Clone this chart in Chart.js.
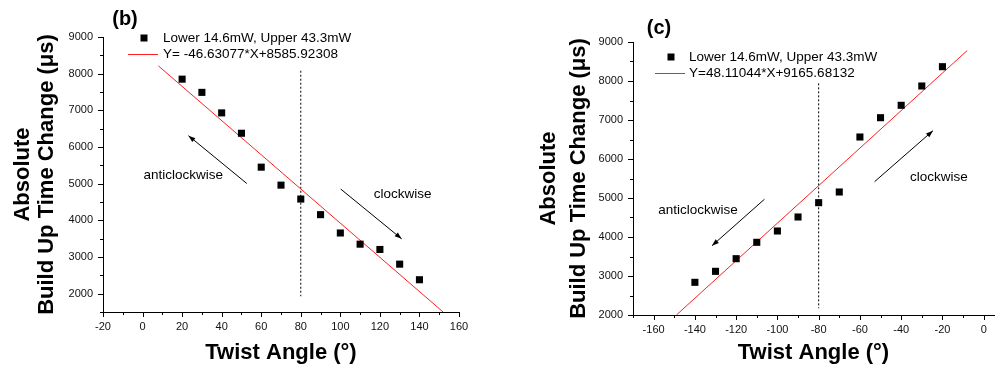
<!DOCTYPE html>
<html>
<head>
<meta charset="utf-8">
<script src="https://cdn.jsdelivr.net/npm/chart.js@4/dist/chart.umd.min.js"></script>
<style>
  html, body { margin: 0; padding: 0; background: #fff; }
  #wrapB { position: absolute; left: 0; top: 0; width: 480px; height: 368px; }
  #wrapC { position: absolute; left: 520px; top: 0; width: 479px; height: 368px; }
</style>
</head>
<body>
<div id="wrapB"><canvas id="chartB" width="480" height="368"></canvas></div>
<div id="wrapC"><canvas id="chartC" width="479" height="368"></canvas></div>
<script>
// ---------- data: panel (b) ----------
const anglesB = [20, 30, 40, 50, 60, 70, 80, 90, 100, 110, 120, 130, 140];
const timesB  = [7850, 7490, 6930, 6375, 5450, 4960, 4580, 4155, 3655, 3350, 3205, 2805, 2380];
const fitB = [-46.63077, 8585.92308];      // slope, intercept (from legend)
const fitRangeB = [8, 152];                // x extent of fitted line
const dividerB = [80, 8080, 1930];         // x, y top, y bottom
const arrowAntiB = [[52.7, 5005], [23.2, 6310]];
const arrowClockB = [[100.2, 4853], [131, 3495]];
const textAntiB = [20.6, 5220];
const textClockB = [131.5, 4700];
const xTicksB = [-20, 0, 20, 40, 60, 80, 100, 120, 140, 160];
const yTicksB = [2000, 3000, 4000, 5000, 6000, 7000, 8000, 9000];

// ---------- data: panel (c) ----------
const anglesC = [-140, -130, -120, -110, -100, -90, -80, -70, -60, -50, -40, -30, -20];
const timesC  = [2838, 3120, 3444, 3864, 4154, 4513, 4880, 5154, 6564, 7059, 7377, 7872, 8367];
const fitC = [48.11044, 9165.68132];
const fitRangeC = [-148.9, -8];
const dividerC = [-80, 7940, 2170];
const arrowAntiC = [[-106.3, 4967], [-131.7, 3777]];
const arrowClockC = [[-52.9, 5418], [-24.6, 6726]];
const textAntiC = [-138.5, 4674];
const textClockC = [-21.7, 5531];
const xTicksC = [-160, -140, -120, -100, -80, -60, -40, -20, 0];
const yTicksC = [2000, 3000, 4000, 5000, 6000, 7000, 8000, 9000];

const seriesLabel = 'Lower 14.6mW, Upper 43.3mW';
const fitLabelB = 'Y= -46.63077*X+8585.92308';
const fitLabelC = 'Y=48.11044*X+9165.68132';
const yTitle = ['Absolute', 'Build Up Time Change (\u03BCs)'];
const xTitle = 'Twist Angle (\u00B0)';

const FONT = "'Liberation Sans', Arial, sans-serif";

function toPts(xs, ys) { return xs.map((x, i) => ({ x: x, y: ys[i] })); }
function fitPts(fit, range) { return range.map(x => ({ x: x, y: fit[0] * x + fit[1] })); }
function segPts(seg) { return seg.map(p => ({ x: p[0], y: p[1] })); }

function makeOverlay(o) {
  return {
    id: 'overlay_' + o.id,
    afterDatasetsDraw(chart) {
      const ctx = chart.ctx;
      const xs = chart.scales.x, ys = chart.scales.y;
      const ca = chart.chartArea;
      ctx.save();
      // axis ticks (major + minor)
      ctx.strokeStyle = '#000';
      ctx.lineWidth = 1;
      ctx.beginPath();
      for (let v = o.xMinorStart; v <= xs.max + 1e-6; v += o.xMinor) {
        const px = Math.round(xs.getPixelForValue(v)) + 0.5;
        const major = Math.abs(((v % o.xMajor) + o.xMajor) % o.xMajor) < 1e-6;
        ctx.moveTo(px, ca.bottom);
        ctx.lineTo(px, ca.bottom + (major ? 5 : 3));
      }
      for (let v = o.yMinorStart; v <= ys.max + 1e-6; v += o.yMinor) {
        const py = Math.round(ys.getPixelForValue(v)) + 0.5;
        const major = Math.abs(v % o.yMajor) < 1e-6;
        ctx.moveTo(ca.left, py);
        ctx.lineTo(ca.left - (major ? 5 : 3), py);
      }
      ctx.stroke();
      // arrowheads at the end of the arrow datasets
      o.arrowIdx.forEach(idx => {
        const pts = chart.getDatasetMeta(idx).data;
        const a = pts[0], b = pts[1];
        const ang = Math.atan2(b.y - a.y, b.x - a.x);
        const L = 7, W = 2.5;
        ctx.fillStyle = '#000';
        ctx.beginPath();
        ctx.moveTo(b.x, b.y);
        ctx.lineTo(b.x - L * Math.cos(ang) + W * Math.sin(ang), b.y - L * Math.sin(ang) - W * Math.cos(ang));
        ctx.lineTo(b.x - L * Math.cos(ang) - W * Math.sin(ang), b.y - L * Math.sin(ang) + W * Math.cos(ang));
        ctx.closePath();
        ctx.fill();
      });
      // annotation texts
      ctx.fillStyle = '#000';
      ctx.font = '13.5px ' + FONT;
      ctx.textAlign = 'center';
      ctx.textBaseline = 'middle';
      o.texts.forEach(t => {
        ctx.fillText(t[0], xs.getPixelForValue(t[1][0]), ys.getPixelForValue(t[1][1]));
      });
      // legend
      const lg = o.legend;
      ctx.fillStyle = '#000';
      ctx.fillRect(lg.mx - 3.5, lg.my - 3.5, 7, 7);
      ctx.strokeStyle = '#ff2020';
      ctx.beginPath();
      ctx.moveTo(lg.lx0, lg.ly + 0.5);
      ctx.lineTo(lg.lx1, lg.ly + 0.5);
      ctx.stroke();
      ctx.fillStyle = '#000';
      ctx.textAlign = 'left';
      ctx.fillText(seriesLabel, lg.tx, lg.my + 0.5);
      ctx.fillText(o.fitLabel, lg.tx, lg.ly + 0.5);
      // panel label
      ctx.font = 'bold 20px ' + FONT;
      ctx.textAlign = 'center';
      ctx.fillText(o.panel, o.px, o.py);
      ctx.restore();
    }
  };
}

function makeChart(id, o) {
  const datasets = [
    { data: toPts(o.angles, o.times), showLine: false, pointStyle: 'rect', pointRadius: 5,
      pointBackgroundColor: '#000', pointBorderWidth: 0, order: 0 },
    { data: fitPts(o.fit, o.fitRange), showLine: true, pointRadius: 0, borderColor: '#ff2020',
      borderWidth: 1, order: 1 },
    { data: [{ x: o.divider[0], y: o.divider[1] }, { x: o.divider[0], y: o.divider[2] }], showLine: true,
      pointRadius: 0, borderColor: '#000', borderWidth: 1, borderDash: [2, 2], order: 2 },
    { data: segPts(o.arrowAnti), showLine: true, pointRadius: 0, borderColor: '#000', borderWidth: 1, order: 3 },
    { data: segPts(o.arrowClock), showLine: true, pointRadius: 0, borderColor: '#000', borderWidth: 1, order: 4 }
  ];
  return new Chart(document.getElementById(id), {
    type: 'scatter',
    data: { datasets: datasets },
    options: {
      responsive: false,
      animation: false,
      devicePixelRatio: 1,
      layout: { padding: o.padding },
      plugins: { legend: { display: false }, tooltip: { enabled: false } },
      scales: {
        x: {
          type: 'linear', min: o.xMin, max: o.xMax,
          afterBuildTicks: s => { s.ticks = o.xTicks.map(v => ({ value: v })); },
          afterFit: s => { s.height = o.xAxisH; },
          grid: { display: false, drawTicks: true, tickLength: 5 },
          border: { display: true, color: '#000', width: 1 },
          ticks: { color: '#111', font: { family: FONT, size: 11 }, padding: 3, maxRotation: 0,
                   autoSkip: false, callback: v => String(v) },
          title: { display: true, text: xTitle, color: '#000',
                   font: { family: FONT, size: 22, weight: 'bold', lineHeight: 1.1 },
                   padding: { top: 0, bottom: 3 } }
        },
        y: {
          type: 'linear', min: o.yMin, max: o.yMax,
          afterBuildTicks: s => { s.ticks = o.yTicks.map(v => ({ value: v })); },
          afterFit: s => { s.width = o.yAxisW; },
          grid: { display: false, drawTicks: true, tickLength: 5 },
          border: { display: true, color: '#000', width: 1 },
          ticks: { color: '#111', font: { family: FONT, size: 11 }, padding: 5,
                   autoSkip: false, callback: v => String(v) },
          title: { display: true, text: yTitle, color: '#000',
                   font: { family: FONT, size: 22, weight: 'bold', lineHeight: o.yTitleLH },
                   padding: { top: o.yTitlePad, bottom: 0 } }
        }
      }
    },
    plugins: [makeOverlay(o)]
  });
}

makeChart('chartB', {
  id: 'b', angles: anglesB, times: timesB, fit: fitB, fitRange: fitRangeB, divider: dividerB,
  arrowAnti: arrowAntiB, arrowClock: arrowClockB, xTicks: xTicksB, yTicks: yTicksB,
  xMin: -20, xMax: 160, yMin: 1500, yMax: 9000,
  padding: { left: 0, top: 37, right: 21, bottom: 0 }, xAxisH: 56, yAxisW: 103,
  yTitleLH: 24 / 22, yTitlePad: 11,
  xMinor: 10, xMajor: 20, xMinorStart: -20, yMinor: 500, yMajor: 1000, yMinorStart: 1500,
  arrowIdx: [3, 4],
  texts: [['anticlockwise', textAntiB], ['clockwise', textClockB]],
  legend: { mx: 144, my: 38, lx0: 128, lx1: 158, ly: 54, tx: 163 },
  fitLabel: fitLabelB, panel: '(b)', px: 125, py: 19
});

makeChart('chartC', {
  id: 'c', angles: anglesC, times: timesC, fit: fitC, fitRange: fitRangeC, divider: dividerC,
  arrowAnti: arrowAntiC, arrowClock: arrowClockC, xTicks: xTicksC, yTicks: yTicksC,
  xMin: -170, xMax: 5, yMin: 2000, yMax: 9000,
  padding: { left: 0, top: 42, right: 3, bottom: 0 }, xAxisH: 53, yAxisW: 113,
  yTitleLH: 30 / 22, yTitlePad: 14,
  xMinor: 10, xMajor: 20, xMinorStart: -170, yMinor: 500, yMajor: 1000, yMinorStart: 2000,
  arrowIdx: [3, 4],
  texts: [['anticlockwise', textAntiC], ['clockwise', textClockC]],
  legend: { mx: 151, my: 57, lx0: 135, lx1: 165, ly: 73, tx: 169 },
  fitLabel: fitLabelC, panel: '(c)', px: 139, py: 28
});
</script>
</body>
</html>
